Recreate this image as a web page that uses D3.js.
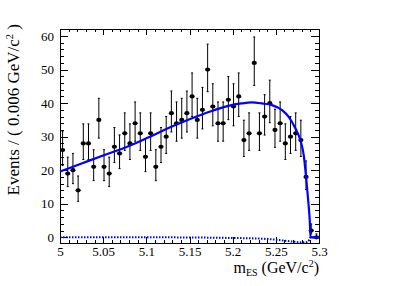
<!DOCTYPE html>
<html><head><meta charset="utf-8">
<script src="https://cdn.jsdelivr.net/npm/d3@7"></script>
<style>
html,body{margin:0;padding:0;background:#fff;}
svg{display:block;font-family:"Liberation Serif","Times New Roman",serif;}
</style>
</head><body>
<svg id="c" width="399" height="286"></svg>
<script>
// ---- data ----
const xMin = 5.0, xMax = 5.3, binWidth = 0.006;
const counts = [26,19,20,14,28,28,21,35,21,19,27,25,31,28,34,31,24,31,21,27,
                30,37,34,35,37,42,35,38,50,39,34,34,41,39,42,29,31,52,31,36,
                40,32,34,28,30,31,29,18,2,0];
// total fit curve
const fitM = [5.000,5.025,5.050,5.075,5.100,5.125,5.150,5.175,5.195,5.210,5.222,5.234,5.2456,5.2572,5.2649,5.2726,5.2784,5.2823,5.2850,5.2873,5.2893,5.2902,5.3000];
const fitV = [19.6, 22.0, 24.4, 26.7, 29.5, 32.5, 35.2, 37.6, 39.2, 39.9, 40.2, 39.9, 39.4, 37.9, 35.9, 32.5, 29.0, 24.5, 18.1, 11.5, 5.0, 0.0, 0.0];
// dotted component
const compM = [5.000,5.100,5.200,5.240,5.260,5.270,5.280,5.286,5.2885,5.2895,5.2902,5.3000];
const compV = [0.0, 0.0, -0.2, -0.5, -1.0, -1.3, -1.5, -1.4, -0.8, -0.2, 0.0, 0.0];
const xTicks = [5,5.05,5.1,5.15,5.2,5.25,5.3];
const xTickLabels = ["5","5.05","5.1","5.15","5.2","5.25","5.3"];
const yTicks = [0,10,20,30,40,50,60];
const yTickLabels = ["0","10","20","30","40","50","60"];
const yMinorStep = 2, xMinorStep = 0.01;

// ---- layout ----
const L = 60, R = 319, T = 29, B = 243;
const svg = d3.select("#c");
const x = d3.scaleLinear().domain([xMin, xMax]).range([L, R]);
const y = d3.scaleLinear().domain([-1.7, 62.1]).range([B, T]);

const xMinor = d3.range(0, 31).map(i => xMin + i*xMinorStep);
const yMinor = d3.range(0, 32).map(i => i*yMinorStep);

function styleAxis(g){ g.select(".domain").remove(); g.selectAll("line").attr("stroke","#000").attr("shape-rendering","crispEdges"); }

// bottom
svg.append("g").attr("transform",`translate(0,${B})`)
  .call(d3.axisBottom(x).tickValues(xMinor).tickFormat("").tickSizeInner(-3.2).tickSizeOuter(0)).call(styleAxis);
const gxb = svg.append("g").attr("transform",`translate(0,${B})`)
  .call(d3.axisBottom(x).tickValues(xTicks).tickFormat((d,i)=>xTickLabels[i]).tickSizeInner(-6.4).tickSizeOuter(0)).call(styleAxis);
gxb.selectAll("text").attr("y",13).attr("dy",null).attr("font-size",13).attr("font-family","Liberation Serif").attr("fill","#000");
// top
svg.append("g").attr("transform",`translate(0,${T})`)
  .call(d3.axisTop(x).tickValues(xMinor).tickFormat("").tickSizeInner(-3.2).tickSizeOuter(0)).call(styleAxis);
svg.append("g").attr("transform",`translate(0,${T})`)
  .call(d3.axisTop(x).tickValues(xTicks).tickFormat("").tickSizeInner(-6.4).tickSizeOuter(0)).call(styleAxis);
// left
svg.append("g").attr("transform",`translate(${L},0)`)
  .call(d3.axisLeft(y).tickValues(yMinor).tickFormat("").tickSizeInner(-3.9).tickSizeOuter(0)).call(styleAxis);
const gyl = svg.append("g").attr("transform",`translate(${L},0)`)
  .call(d3.axisLeft(y).tickValues(yTicks).tickFormat((d,i)=>yTickLabels[i]).tickSizeInner(-7.8).tickSizeOuter(0).tickPadding(6)).call(styleAxis);
gyl.selectAll("text").attr("font-size",13).attr("font-family","Liberation Serif").attr("fill","#000");
// right
svg.append("g").attr("transform",`translate(${R},0)`)
  .call(d3.axisRight(y).tickValues(yMinor).tickFormat("").tickSizeInner(-3.9).tickSizeOuter(0)).call(styleAxis);
svg.append("g").attr("transform",`translate(${R},0)`)
  .call(d3.axisRight(y).tickValues(yTicks).tickFormat("").tickSizeInner(-7.8).tickSizeOuter(0)).call(styleAxis);

// frame
svg.append("rect").attr("x",L).attr("y",T).attr("width",R-L).attr("height",B-T)
  .attr("fill","none").attr("stroke","#000").attr("stroke-width",1).attr("shape-rendering","crispEdges");

// data points with Poisson error bars
const pts = counts.map((n,i)=>({m: xMin + (i+0.5)*binWidth, n,
  lo: Math.max(0, n + 0.5 - Math.sqrt(n + 0.25)), hi: n + 0.5 + Math.sqrt(n + 0.25)}));
const gd = svg.append("g");
gd.selectAll("line.eb").data(pts).join("line").attr("class","eb")
  .attr("x1",d=>x(d.m)).attr("x2",d=>x(d.m)).attr("y1",d=>y(d.lo)).attr("y2",d=>y(d.hi))
  .attr("stroke","#000").attr("stroke-width",1);
gd.selectAll("line.ct").data(pts).join("line").attr("class","ct")
  .attr("x1",d=>x(d.m)-1).attr("x2",d=>x(d.m)+1).attr("y1",d=>y(d.hi)).attr("y2",d=>y(d.hi))
  .attr("stroke","#000").attr("stroke-width",1);
gd.selectAll("line.cb").data(pts).join("line").attr("class","cb")
  .attr("x1",d=>x(d.m)-1).attr("x2",d=>x(d.m)+1).attr("y1",d=>y(d.lo)).attr("y2",d=>y(d.lo))
  .attr("stroke","#000").attr("stroke-width",1);
gd.selectAll("ellipse").data(pts).join("ellipse")
  .attr("cx",d=>x(d.m)).attr("cy",d=>y(d.n)).attr("rx",2.6).attr("ry",2.1).attr("fill","#000");

// curves
const line = d3.line().x(d=>x(d[0])).y(d=>y(d[1])).curve(d3.curveMonotoneX);
svg.append("path").datum(compM.map((m,i)=>[m,compV[i]])).attr("d",line)
  .attr("fill","none").attr("stroke","#0000ff").attr("stroke-width",2).attr("stroke-dasharray","1.5,1.5");
svg.append("path").datum(fitM.map((m,i)=>[m,fitV[i]])).attr("d",line)
  .attr("fill","none").attr("stroke","#0000ff").attr("stroke-width",2.2);

// titles
const xt = svg.append("text").attr("x",R).attr("y",273).attr("text-anchor","end")
  .attr("font-size",16).attr("fill","#000");
xt.append("tspan").text("m");
xt.append("tspan").attr("font-size",10).attr("dy",3).text("ES");
xt.append("tspan").attr("dy",-3).text(" (GeV/c");
xt.append("tspan").attr("font-size",10).attr("dy",-6).text("2");
xt.append("tspan").attr("dy",6).text(")");

const yt = svg.append("text").attr("transform","translate(18.5,24) rotate(-90)").attr("text-anchor","end")
  .attr("font-size",17).attr("fill","#000");
yt.append("tspan").text("Events / ( 0.006 GeV/c");
yt.append("tspan").attr("font-size",10.5).attr("dy",-6).text("2");
yt.append("tspan").attr("dy",6).text(" )");
</script>
</body></html>
